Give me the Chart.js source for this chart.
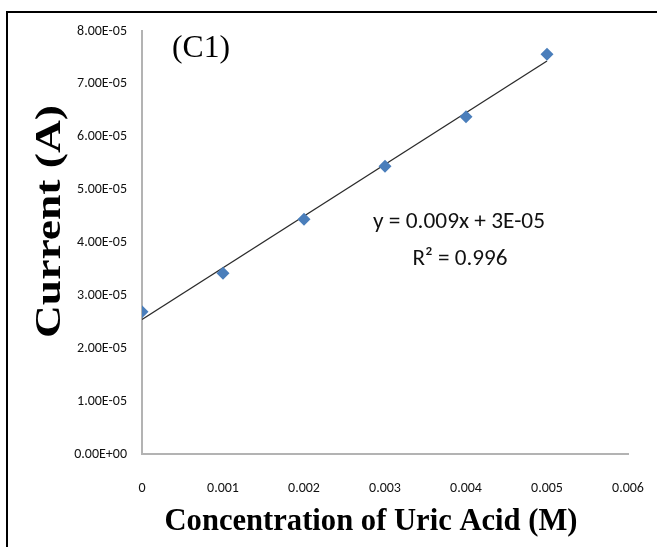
<!DOCTYPE html>
<html>
<head>
<meta charset="utf-8">
<script src="https://cdn.jsdelivr.net/npm/chart.js@4.4.1/dist/chart.umd.min.js"></script>
<style>
  html, body { margin: 0; padding: 0; background: #fff; }
  #wrap { width: 657px; height: 547px; position: relative; }
</style>
</head>
<body>
<div id="wrap"><canvas id="calib" width="657" height="547"></canvas></div>
<script>
// Calibration data: uric acid concentration (M) vs. measured current (A)
const concentrations = [0, 0.001, 0.002, 0.003, 0.004, 0.005];
const currents = [2.69e-5, 3.42e-5, 4.44e-5, 5.44e-5, 6.38e-5, 7.56e-5];

// Axis tick labels
const xTickLabels = ['0', '0.001', '0.002', '0.003', '0.004', '0.005', '0.006'];
const yTickLabels = ['0.00E+00', '1.00E-05', '2.00E-05', '3.00E-05', '4.00E-05',
                     '5.00E-05', '6.00E-05', '7.00E-05', '8.00E-05'];

// Text annotations
const panelLabel = '(C1)';
const equationLabel = 'y = 0.009x + 3E-05';
const rSquaredLabel = 'R\u00B2 = 0.996';
const xTitle = 'Concentration of Uric Acid (M)';
const yTitle = 'Current (A)';

// Ordinary least-squares line through the calibration points
function linearFit(xs, ys) {
  const n = xs.length;
  const mx = xs.reduce((a, b) => a + b, 0) / n;
  const my = ys.reduce((a, b) => a + b, 0) / n;
  let sxy = 0, sxx = 0;
  for (let i = 0; i < n; i++) {
    sxy += (xs[i] - mx) * (ys[i] - my);
    sxx += (xs[i] - mx) * (xs[i] - mx);
  }
  const slope = sxy / sxx;
  return { slope, intercept: my - slope * mx };
}
const fit = linearFit(concentrations, currents);
const xFirst = concentrations[0];
const xLast = concentrations[concentrations.length - 1];
const trendPoints = [
  { x: xFirst, y: fit.intercept + fit.slope * xFirst },
  { x: xLast, y: fit.intercept + fit.slope * xLast }
];
const measuredPoints = concentrations.map((c, i) => ({ x: c, y: currents[i] }));

const sansFamily = 'Carlito, Calibri, "Liberation Sans Narrow", "DejaVu Sans Condensed", "Liberation Sans", sans-serif';
const serifFamily = '"Liberation Serif", "Times New Roman", serif';

// Draws a line of text squeezed/stretched horizontally to a given width
function drawFitted(ctx, text, font, cx, baseline, width) {
  ctx.save();
  ctx.font = font;
  ctx.textAlign = 'center';
  ctx.textBaseline = 'alphabetic';
  const w = ctx.measureText(text).width;
  ctx.translate(cx, baseline);
  ctx.scale(width / w, 1);
  ctx.fillText(text, 0, 0);
  ctx.restore();
}

const decorations = {
  id: 'decorations',
  afterDraw(chart) {
    const ctx = chart.ctx;
    ctx.save();
    ctx.fillStyle = '#000';
    // frame
    ctx.fillRect(6, 11, 2, 536);
    ctx.fillRect(6, 11, 651, 2);
    // panel tag
    drawFitted(ctx, panelLabel, '31px ' + serifFamily, 201, 57, 58);
    // trendline equation
    ctx.fillStyle = '#111';
    drawFitted(ctx, equationLabel, '23px ' + sansFamily, 459, 228, 172);
    drawFitted(ctx, rSquaredLabel, '23px ' + sansFamily, 460, 265, 95);
    // axis titles
    ctx.fillStyle = '#000';
    drawFitted(ctx, xTitle, 'bold 32px ' + serifFamily, 371, 530, 413);
    ctx.save();
    ctx.translate(60, 221.5);
    ctx.rotate(-Math.PI / 2);
    drawFitted(ctx, yTitle, 'bold 36px ' + serifFamily, 0, 0, 233);
    ctx.restore();
    ctx.restore();
  }
};

new Chart(document.getElementById('calib'), {
  type: 'scatter',
  data: {
    datasets: [
      {
        label: 'Current',
        data: measuredPoints,
        pointStyle: 'rectRot',
        pointRadius: 6.5,
        pointBackgroundColor: '#4a7ebb',
        pointBorderColor: '#4a7ebb',
        pointBorderWidth: 0,
        showLine: false,
        order: 0
      },
      {
        label: 'Linear fit',
        data: trendPoints,
        showLine: true,
        borderColor: '#2b2b2b',
        borderWidth: 1.3,
        pointRadius: 0,
        fill: false,
        order: 1
      }
    ]
  },
  options: {
    responsive: false,
    animation: false,
    devicePixelRatio: 1,
    layout: { padding: { left: 0, top: 31, right: 29, bottom: 0 } },
    plugins: {
      legend: { display: false },
      tooltip: { enabled: false },
      title: { display: false }
    },
    scales: {
      x: {
        type: 'linear',
        min: 0,
        max: 0.006,
        afterFit: (s) => { s.height = 93; s.paddingLeft = 0; s.paddingRight = 0; },
        afterBuildTicks: (s) => {
          s.ticks = xTickLabels.map((t, i) => ({ value: i * 0.001 }));
        },
        ticks: {
          padding: 26,
          color: '#111',
          font: { family: sansFamily, size: 14 },
          maxRotation: 0,
          callback: (v, i) => xTickLabels[i]
        },
        grid: { display: true, drawOnChartArea: false, drawTicks: false },
        border: { display: true, color: '#b3b3b3', width: 2 }
      },
      y: {
        type: 'linear',
        min: 0,
        max: 8e-5,
        afterFit: (s) => { s.width = 142; s.paddingTop = 0; s.paddingBottom = 0; },
        afterBuildTicks: (s) => {
          s.ticks = yTickLabels.map((t, i) => ({ value: i * 1e-5 }));
        },
        ticks: {
          padding: 15,
          color: '#111',
          font: { family: sansFamily, size: 14 },
          callback: (v, i) => yTickLabels[i]
        },
        grid: { display: true, drawOnChartArea: false, drawTicks: false },
        border: { display: true, color: '#b3b3b3', width: 2 }
      }
    }
  },
  plugins: [decorations]
});
</script>
</body>
</html>
